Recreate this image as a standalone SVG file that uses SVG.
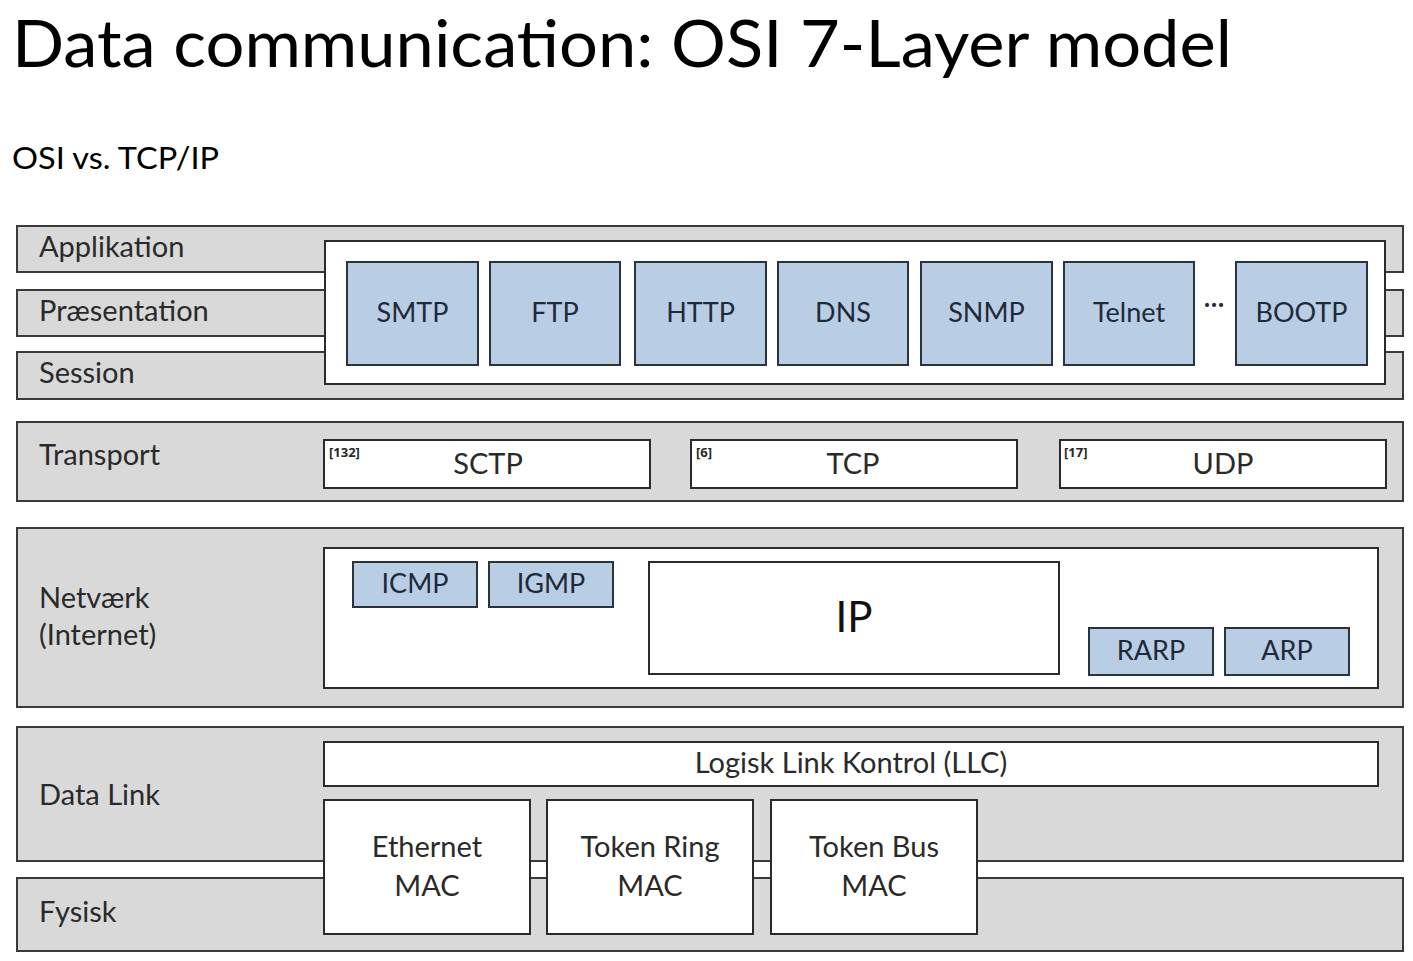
<svg xmlns="http://www.w3.org/2000/svg" width="1413" height="961" viewBox="0 0 1413 961">
<style>
.t{font-family:Lato,"Open Sans","Liberation Sans",sans-serif;fill:#000}
.bar{fill:#d9d9d9;stroke:#3a3a3a;stroke-width:2}
.wb{fill:#fff;stroke:#2b2b2b;stroke-width:2}
.bb{fill:#b9cde5;stroke:#2a3340;stroke-width:2}
.lab{font-family:Lato,"Open Sans","Liberation Sans",sans-serif;font-size:29px;fill:#2a2a2a}
.pl{font-family:Lato,"Open Sans","Liberation Sans",sans-serif;font-size:27px;fill:#1e2a38;text-anchor:middle}
.sup{font-family:"Open Sans","Liberation Sans",sans-serif;font-size:13px;font-weight:700;fill:#262626}
.ml{font-family:Lato,"Open Sans","Liberation Sans",sans-serif;font-size:29px;fill:#2a2a2a;text-anchor:middle}
</style>
<rect width="1413" height="961" fill="#fff"/>
<text class="t" x="12" y="67" font-size="66" textLength="1220" lengthAdjust="spacingAndGlyphs">Data communication: OSI 7-Layer model</text>
<text class="t" x="12" y="169" font-size="31" textLength="207" lengthAdjust="spacingAndGlyphs">OSI vs. TCP/IP</text>

<g id="layer-applikation"><rect class="bar" x="17" y="226" width="1386" height="46"/><text class="lab" x="39" y="257">Applikation</text></g>
<g id="layer-praesentation"><rect class="bar" x="17" y="290" width="1386" height="46"/><text class="lab" x="39" y="321">Præsentation</text></g>
<g id="layer-session"><rect class="bar" x="17" y="352" width="1386" height="47"/><text class="lab" x="39" y="383">Session</text></g>
<g id="app-protocols">
<rect class="wb" x="325" y="241" width="1060" height="143"/>
<g id="smtp"><rect class="bb" x="347" y="262" width="131" height="103"/><text class="pl" x="412.5" y="322">SMTP</text></g>
<g id="ftp"><rect class="bb" x="490" y="262" width="130" height="103"/><text class="pl" x="555" y="322">FTP</text></g>
<g id="http"><rect class="bb" x="635" y="262" width="131" height="103"/><text class="pl" x="700.5" y="322">HTTP</text></g>
<g id="dns"><rect class="bb" x="778" y="262" width="130" height="103"/><text class="pl" x="843" y="322">DNS</text></g>
<g id="snmp"><rect class="bb" x="921" y="262" width="131" height="103"/><text class="pl" x="986.5" y="322">SNMP</text></g>
<g id="telnet"><rect class="bb" x="1064" y="262" width="130" height="103"/><text class="pl" x="1129" y="322">Telnet</text></g>
<text class="pl" x="1214" y="313">···</text>
<g id="bootp"><rect class="bb" x="1236" y="262" width="131" height="103"/><text class="pl" x="1301.5" y="322">BOOTP</text></g>
</g>

<g id="layer-transport"><rect class="bar" x="17" y="422" width="1386" height="79"/><text class="lab" x="39" y="465">Transport</text>
<g id="sctp"><rect class="wb" x="324" y="440" width="326" height="48"/><text class="sup" x="329" y="457">[132]</text><text class="ml" x="488" y="474">SCTP</text></g>
<g id="tcp"><rect class="wb" x="691" y="440" width="326" height="48"/><text class="sup" x="696" y="457">[6]</text><text class="ml" x="853" y="474">TCP</text></g>
<g id="udp"><rect class="wb" x="1060" y="440" width="326" height="48"/><text class="sup" x="1064" y="457">[17]</text><text class="ml" x="1223" y="474">UDP</text></g>
</g>

<g id="layer-netvaerk"><rect class="bar" x="17" y="528" width="1386" height="179"/><text class="lab" x="39" y="608">Netværk</text><text class="lab" x="39" y="645">(Internet)</text>
<rect class="wb" x="324" y="548" width="1054" height="140"/>
<g id="icmp"><rect class="bb" x="353" y="562" width="124" height="45"/><text class="pl" x="415" y="593">ICMP</text></g>
<g id="igmp"><rect class="bb" x="489" y="562" width="124" height="45"/><text class="pl" x="551" y="593">IGMP</text></g>
<g id="ip"><rect class="wb" x="649" y="562" width="410" height="112"/><text class="ml" x="854" y="632" style="font-size:42px;fill:#111">IP</text></g>
<g id="rarp"><rect class="bb" x="1089" y="628" width="124" height="47"/><text class="pl" x="1151" y="660">RARP</text></g>
<g id="arp"><rect class="bb" x="1225" y="628" width="124" height="47"/><text class="pl" x="1287" y="660">ARP</text></g>
</g>

<g id="layer-datalink"><rect class="bar" x="17" y="727" width="1386" height="134"/><text class="lab" x="39" y="805">Data Link</text></g>
<g id="layer-fysisk"><rect class="bar" x="17" y="878" width="1386" height="73"/><text class="lab" x="39" y="922">Fysisk</text></g>
<g id="llc"><rect class="wb" x="324" y="742" width="1054" height="44"/><text class="ml" x="851" y="773">Logisk Link Kontrol (LLC)</text></g>
<g id="ethernet-mac"><rect class="wb" x="324" y="800" width="206" height="134"/><text class="ml" x="427" y="857">Ethernet</text><text class="ml" x="427" y="896">MAC</text></g>
<g id="tokenring-mac"><rect class="wb" x="547" y="800" width="206" height="134"/><text class="ml" x="650" y="857">Token Ring</text><text class="ml" x="650" y="896">MAC</text></g>
<g id="tokenbus-mac"><rect class="wb" x="771" y="800" width="206" height="134"/><text class="ml" x="874" y="857">Token Bus</text><text class="ml" x="874" y="896">MAC</text></g>
<g id="connectors"></g>
</svg>
